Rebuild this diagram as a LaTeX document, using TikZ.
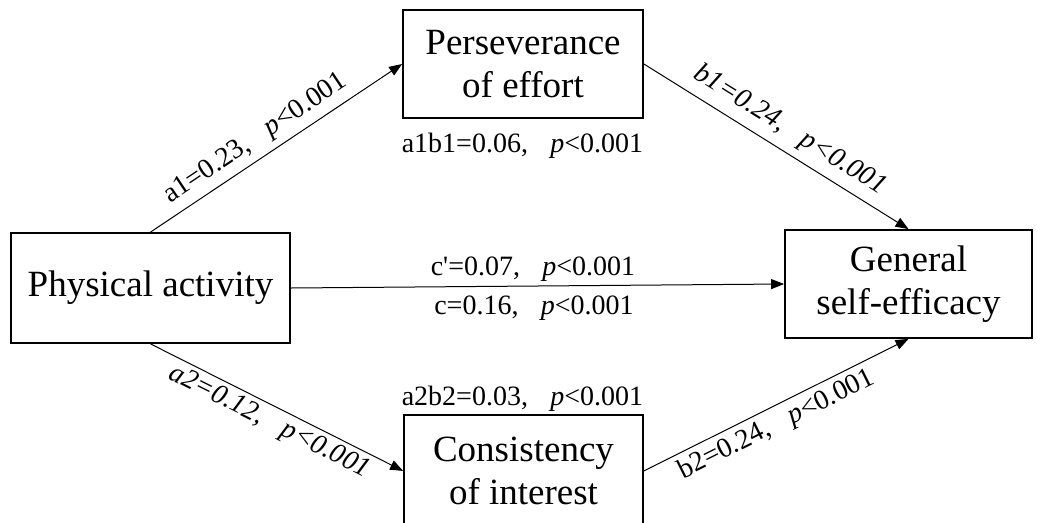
\documentclass[tikz,border=0pt]{standalone}
\usepackage{fontspec}
\setmainfont{Liberation Serif}
\usetikzlibrary{arrows.meta}
\newcommand\pval{\textit{p}<0.001}
\begin{document}
\begin{tikzpicture}[x=1pt,y=-1pt,
  box/.style={draw, line width=1.8pt, align=center, font=\fontsize{37}{43}\selectfont, inner sep=0pt},
  conn/.style={line width=1pt, -{Triangle[length=13pt,width=10pt]}},
  lab/.style={font=\fontsize{28}{32}\selectfont, inner sep=0pt}]
\clip (0,0) rectangle (1040,522);
\fill[white] (0,0) rectangle (1040,522);
\node[box, minimum width=279pt, minimum height=110pt] (pa) at (150.5,288) {Physical activity};
\node[box, minimum width=240pt, minimum height=108pt] (pe) at (523,64) {Perseverance\\of effort};
\node[box, minimum width=247pt, minimum height=108pt] (gse) at (908.5,284) {General\\self-efficacy};
\node[box, minimum width=239pt, minimum height=112pt, anchor=north] (ci) at (523.5,414) {Consistency\\of interest};

\draw[conn] (pa.north) -- node[lab, sloped, above=6pt, pos=0.46] (la1) {a1=0.23,\hspace{0.8em}\pval} (pe.west);
\draw[conn] (pe.east) -- node[lab, sloped, above=8pt, pos=0.51] (lb1) {\itshape b1=0.24,\hspace{0.8em}\pval} (gse.north);
\draw[conn] (pa.east) -- (gse.west);
\draw[conn] (pa.south) -- node[lab, sloped, below=4pt, pos=0.50] (la2) {\itshape a2=0.12,\hspace{0.8em}\pval} (ci.west);
\draw[conn] (ci.east) -- node[lab, sloped, below=5pt, pos=0.47] (lb2) {b2=0.24,\hspace{0.8em}\pval} (gse.south);

\node[lab, anchor=base] (ab1) at (522.5,152) {a1b1=0.06,\hspace{0.8em}\pval};
\node[lab, anchor=base] (cp) at (533,275) {c\textquotesingle=0.07,\hspace{0.8em}\pval};
\node[lab, anchor=base] (c) at (534,314) {c=0.16,\hspace{0.8em}\pval};
\node[lab, anchor=base] (ab2) at (522.5,405) {a2b2=0.03,\hspace{0.8em}\pval};
\end{tikzpicture}
\end{document}
